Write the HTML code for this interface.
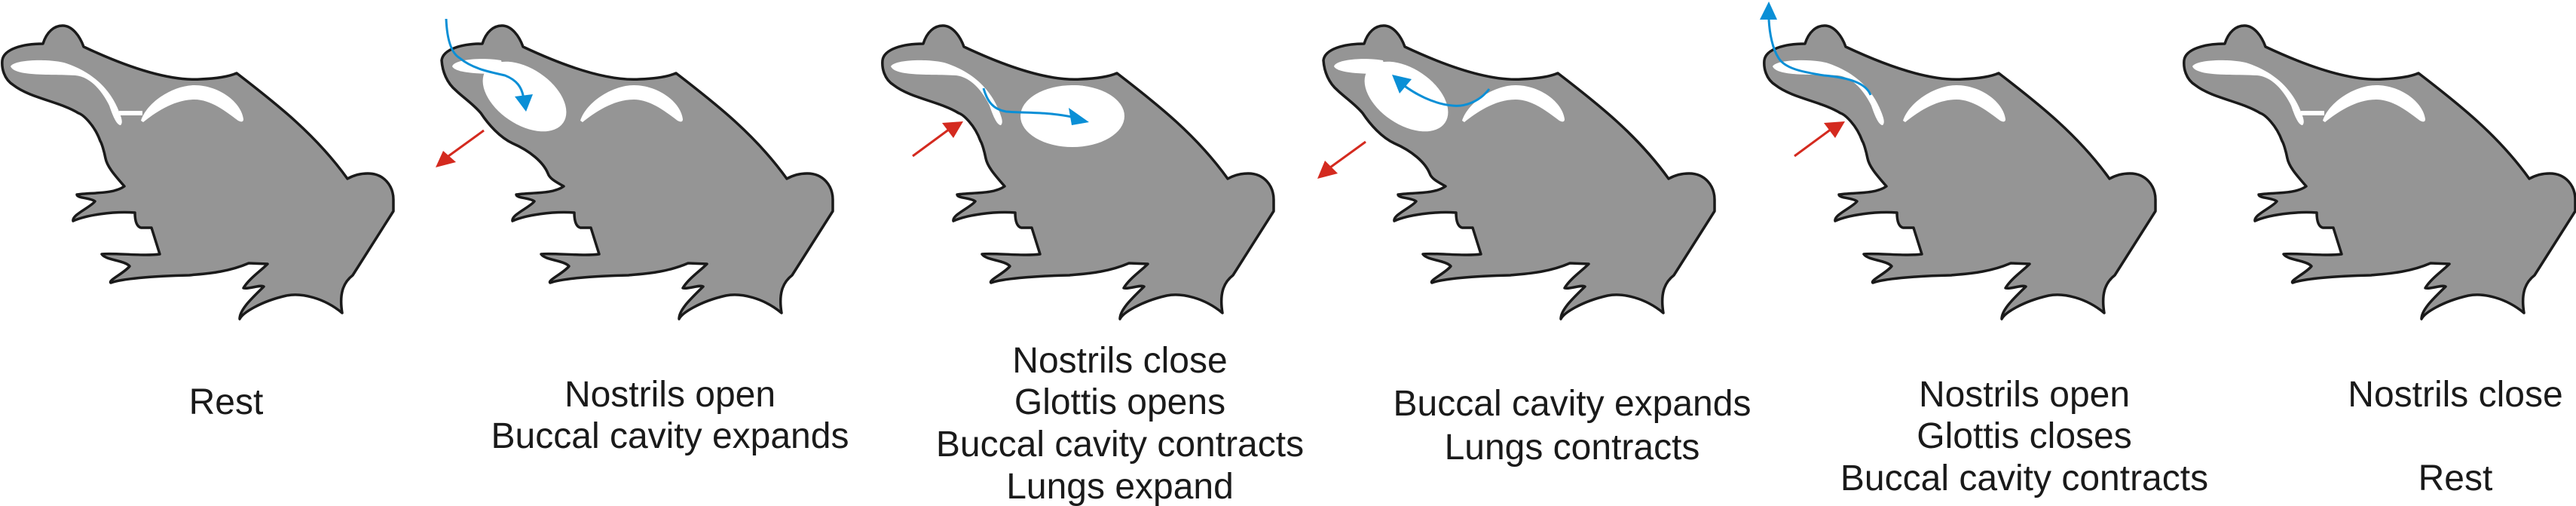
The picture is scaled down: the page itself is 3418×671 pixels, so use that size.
<!DOCTYPE html>
<html><head><meta charset="utf-8"><style>
html,body{margin:0;padding:0;background:#fff;}
svg{display:block;}
text{font-family:"Liberation Sans",Arial,sans-serif;font-size:48px;fill:#1a1a1a;text-anchor:middle;}
</style></head><body>
<svg width="3418" height="671" viewBox="0 0 3418 671" xmlns="http://www.w3.org/2000/svg">
<defs>
<path id="body" fill="#959595" stroke="#1a1a1a" stroke-width="3.5" stroke-linejoin="round" d="M3,80 C5,65 30,58 57,58 C62,42 72,34 83,34 C96,34 106,48 111,62 C160,85 220,108 266,105 C290,104 305,101 314,97 C370,140 420,180 461,237 C470,232 480,230 488,230 C510,230 522,247 522,265 L522,280 L468,365 C455,375 450,390 454,415 C430,395 400,388 380,392 C345,400 322,415 318,423 C318,410 335,395 350,380 C345,377 330,384 323,382 C330,370 345,360 355,350 L330,349 C300,362 270,363 251,365 C200,366 160,370 147,375 C143,372 165,362 172,353 C165,345 140,345 135,337 C150,335 190,340 212,337 L201,302 L187,302 C180,300 179,290 179,282 C150,280 115,285 97,293 C95,285 120,275 126,267 C120,262 102,263 102,258 C120,255 150,258 165,247 C150,230 142,220 140,210 C138,200 135,190 133,187 C125,165 110,152 104,150 C80,135 40,130 18,113 C5,105 2,90 3,80 Z"/>
<path id="body2" fill="#959595" stroke="#1a1a1a" stroke-width="3.5" stroke-linejoin="round" d="M3,80 C5,65 30,58 57,58 C62,42 72,34 83,34 C96,34 106,48 111,62 C160,85 220,108 266,105 C290,104 305,101 314,97 C370,140 420,180 461,237 C470,232 480,230 488,230 C510,230 522,247 522,265 L522,280 L468,365 C455,375 450,390 454,415 C430,395 400,388 380,392 C345,400 322,415 318,423 C318,410 335,395 350,380 C345,377 330,384 323,382 C330,370 345,360 355,350 L330,349 C300,362 270,363 251,365 C200,366 160,370 147,375 C143,372 165,362 172,353 C165,345 140,345 135,337 C150,335 190,340 212,337 L201,302 L187,302 C180,300 179,290 179,282 C150,280 115,285 97,293 C95,285 120,275 126,267 C120,262 102,263 102,258 C120,255 150,258 165,247 C152,240 146,236 144,230 C138,215 120,200 97,190 C80,182 65,165 55,150 C45,138 30,128 22,120 C10,110 4,95 3,80 Z"/>
<path id="stripe" fill="#fff" d="M14,88 C20,78 70,78 88,84 C120,95 145,115 158,148 C162,158 163,163 160,166 C155,166 150,155 145,140 C135,120 120,102 100,100 C70,98 20,102 14,88 Z"/>
<path id="arc" fill="#fff" d="M187,160 C195,135 230,113 258,113 C290,113 320,135 323,158 C323,162 320,162 316,160 C300,148 280,132 258,132 C230,132 205,150 190,162 Z"/>
<rect id="conn" x="158" y="147" width="31" height="6" fill="#fff"/>
<path id="nose" fill="#fff" d="M17,88 C20,78 60,76 82,80 L86,98 C60,98 22,98 17,88 Z"/>
<ellipse id="bucc" cx="113" cy="128" rx="62" ry="37" transform="rotate(34 113 128)" fill="#fff"/>
</defs>

<g transform="translate(0,0)">
<use href="#body"/><use href="#stripe"/><use href="#conn"/><use href="#arc"/>
</g>

<g transform="translate(583,0)">
<use href="#body2"/><use href="#nose"/><use href="#bucc"/><use href="#arc"/>
<path d="M9,25 C10,50 15,70 27,77 C45,92 70,96 87,100 C102,106 110,115 112,132" fill="none" stroke="#0a8fd6" stroke-width="3"/>
<polygon points="100,128 124,125 115,148" fill="#0a8fd6"/>
<line x1="59" y1="173" x2="12" y2="207" stroke="#d42a1f" stroke-width="3"/>
<polygon points="5,200 22,215 -5,222" fill="#d42a1f"/>
</g>

<g transform="translate(1168,0)">
<use href="#body"/><use href="#stripe"/><use href="#arc"/>
<ellipse cx="255" cy="154" rx="69" ry="41" fill="#fff"/>
<path d="M137,117 C142,135 150,145 167,148 C190,150 220,148 254,155" fill="none" stroke="#0a8fd6" stroke-width="3"/>
<polygon points="250,143 254,166 277,162" fill="#0a8fd6"/>
<line x1="43" y1="207" x2="92" y2="171" stroke="#d42a1f" stroke-width="3"/>
<polygon points="82,163 97,183 110,161" fill="#d42a1f"/>
</g>

<g transform="translate(1753,0)">
<use href="#body2"/><use href="#nose"/><use href="#bucc"/><use href="#arc"/>
<path d="M223,118 C210,135 190,142 174,140 C150,138 125,125 108,112" fill="none" stroke="#0a8fd6" stroke-width="3"/>
<polygon points="104,124 120,105 94,99" fill="#0a8fd6"/>
<line x1="59" y1="188" x2="12" y2="222" stroke="#d42a1f" stroke-width="3"/>
<polygon points="5,213 22,230 -5,237" fill="#d42a1f"/>
</g>

<g transform="translate(2338,0)">
<use href="#body"/><use href="#stripe"/><use href="#arc"/>
<path d="M144,126 C138,110 115,103 82,100 C50,95 30,90 22,77 C14,65 10,45 9,26" fill="none" stroke="#0a8fd6" stroke-width="3"/>
<polygon points="-3,26 20,26 9,2" fill="#0a8fd6"/>
<line x1="43" y1="207" x2="92" y2="171" stroke="#d42a1f" stroke-width="3"/>
<polygon points="82,163 97,183 110,161" fill="#d42a1f"/>
</g>

<g transform="translate(2895,0)">
<use href="#body"/><use href="#stripe"/><use href="#conn"/><use href="#arc"/>
</g>

<text x="300" y="549">Rest</text>
<text x="889" y="539">Nostrils open</text>
<text x="889" y="594">Buccal cavity expands</text>
<text x="1486" y="494">Nostrils close</text>
<text x="1486" y="549">Glottis opens</text>
<text x="1486" y="605">Buccal cavity contracts</text>
<text x="1486" y="661">Lungs expand</text>
<text x="2086" y="551">Buccal cavity expands</text>
<text x="2086" y="609">Lungs contracts</text>
<text x="2686" y="539">Nostrils open</text>
<text x="2686" y="594">Glottis closes</text>
<text x="2686" y="650">Buccal cavity contracts</text>
<text x="3258" y="539">Nostrils close</text>
<text x="3258" y="650">Rest</text>
</svg>
</body></html>
